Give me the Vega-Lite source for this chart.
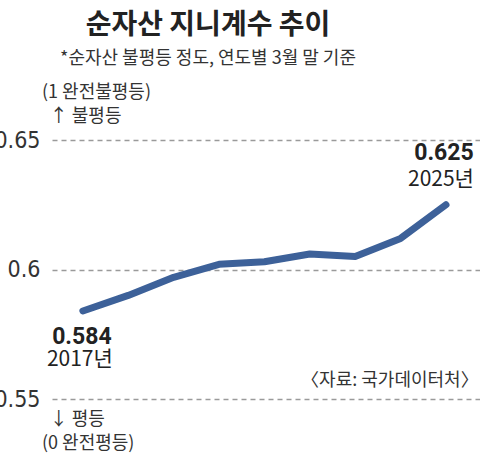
{
  "$schema": "https://vega.github.io/schema/vega-lite/v6.json",
  "width": 428,
  "height": 259,
  "autosize": {"type": "none"},
  "padding": {"left": 52, "top": 140, "right": 0, "bottom": 65},
  "background": "white",
  "title": {
    "text": "순자산 지니계수 추이",
    "subtitle": "*순자산 불평등 정도, 연도별 3월 말 기준",
    "anchor": "middle",
    "frame": "group",
    "dx": -58,
    "offset": 16,
    "font": "Noto Sans CJK KR",
    "fontSize": 28,
    "fontWeight": "bold",
    "color": "#222222",
    "subtitleFont": "Noto Sans CJK KR",
    "subtitleFontSize": 18,
    "subtitleColor": "#333333",
    "subtitlePadding": 10
  },
  "config": {"view": {"stroke": null}},
  "data": {
    "values": [
      {"year": 2017, "gini": 0.584},
      {"year": 2018, "gini": 0.590},
      {"year": 2019, "gini": 0.597},
      {"year": 2020, "gini": 0.602},
      {"year": 2021, "gini": 0.603},
      {"year": 2022, "gini": 0.606},
      {"year": 2023, "gini": 0.605},
      {"year": 2024, "gini": 0.612},
      {"year": 2025, "gini": 0.625}
    ]
  },
  "encoding": {
    "x": {"field": "year", "type": "quantitative", "scale": {"domain": [2016.32, 2025.75]}, "axis": null},
    "y": {
      "field": "gini",
      "type": "quantitative",
      "scale": {"domain": [0.55, 0.65]},
      "axis": {
        "values": [0.55, 0.6, 0.65],
        "format": "~g",
        "title": null,
        "domain": false,
        "ticks": false,
        "grid": true,
        "gridColor": "#9a9a9a",
        "gridDash": [5, 4],
        "gridWidth": 1.5,
        "labelFont": "DejaVu Sans Condensed",
        "labelFontSize": 23,
        "labelColor": "#333333",
        "labelPadding": 12
      }
    }
  },
  "layer": [
    {
      "mark": {"type": "line", "color": "#3d6199", "strokeWidth": 7, "strokeCap": "round", "strokeJoin": "round"}
    },
    {
      "transform": [{"filter": "datum.year == 2017"}],
      "mark": {"type": "text", "font": "Roboto", "fontSize": 23, "fontWeight": "bold", "color": "#222222", "dy": 26, "dx": -1},
      "encoding": {"text": {"field": "gini", "format": ".3f"}}
    },
    {
      "transform": [{"filter": "datum.year == 2025"}],
      "mark": {"type": "text", "font": "Roboto", "fontSize": 23, "fontWeight": "bold", "color": "#222222", "dy": -52, "dx": -2},
      "encoding": {"text": {"field": "gini", "format": ".3f"}}
    },
    {
      "transform": [{"filter": "datum.year == 2017"}, {"calculate": "datum.year + '년'", "as": "label"}],
      "mark": {"type": "text", "font": "Noto Sans CJK KR", "fontSize": 21, "color": "#222222", "dy": 49, "dx": -3},
      "encoding": {"text": {"field": "label"}}
    },
    {
      "transform": [{"filter": "datum.year == 2025"}, {"calculate": "datum.year + '년'", "as": "label"}],
      "mark": {"type": "text", "font": "Noto Sans CJK KR", "fontSize": 21, "color": "#222222", "dy": -25, "dx": -5},
      "encoding": {"text": {"field": "label"}}
    },
    {
      "transform": [{"filter": "datum.year == 2017"}],
      "mark": {"type": "text", "text": "(1 완전불평등)", "align": "left", "font": "Noto Sans CJK KR", "fontSize": 18, "color": "#333333"},
      "encoding": {"x": {"datum": 2016.1, "type": "quantitative"}, "y": {"datum": 0.668, "type": "quantitative"}}
    },
    {
      "transform": [{"filter": "datum.year == 2017"}],
      "mark": {"type": "text", "text": "↑ 불평등", "align": "left", "font": "Noto Sans CJK KR", "fontSize": 18, "color": "#333333"},
      "encoding": {"x": {"datum": 2016.27, "type": "quantitative"}, "y": {"datum": 0.6587, "type": "quantitative"}}
    },
    {
      "transform": [{"filter": "datum.year == 2017"}],
      "mark": {"type": "text", "text": "↓ 평등", "align": "left", "font": "Noto Sans CJK KR", "fontSize": 18, "color": "#333333"},
      "encoding": {"x": {"datum": 2016.27, "type": "quantitative"}, "y": {"datum": 0.5417, "type": "quantitative"}}
    },
    {
      "transform": [{"filter": "datum.year == 2017"}],
      "mark": {"type": "text", "text": "(0 완전평등)", "align": "left", "font": "Noto Sans CJK KR", "fontSize": 18, "color": "#333333"},
      "encoding": {"x": {"datum": 2016.1, "type": "quantitative"}, "y": {"datum": 0.5328, "type": "quantitative"}}
    },
    {
      "transform": [{"filter": "datum.year == 2025"}],
      "mark": {"type": "text", "text": "〈자료: 국가데이터처〉", "align": "right", "font": "Noto Sans CJK KR", "fontSize": 18, "color": "#333333"},
      "encoding": {"x": {"datum": 2025.72, "type": "quantitative"}, "y": {"datum": 0.5571, "type": "quantitative"}}
    }
  ]
}
